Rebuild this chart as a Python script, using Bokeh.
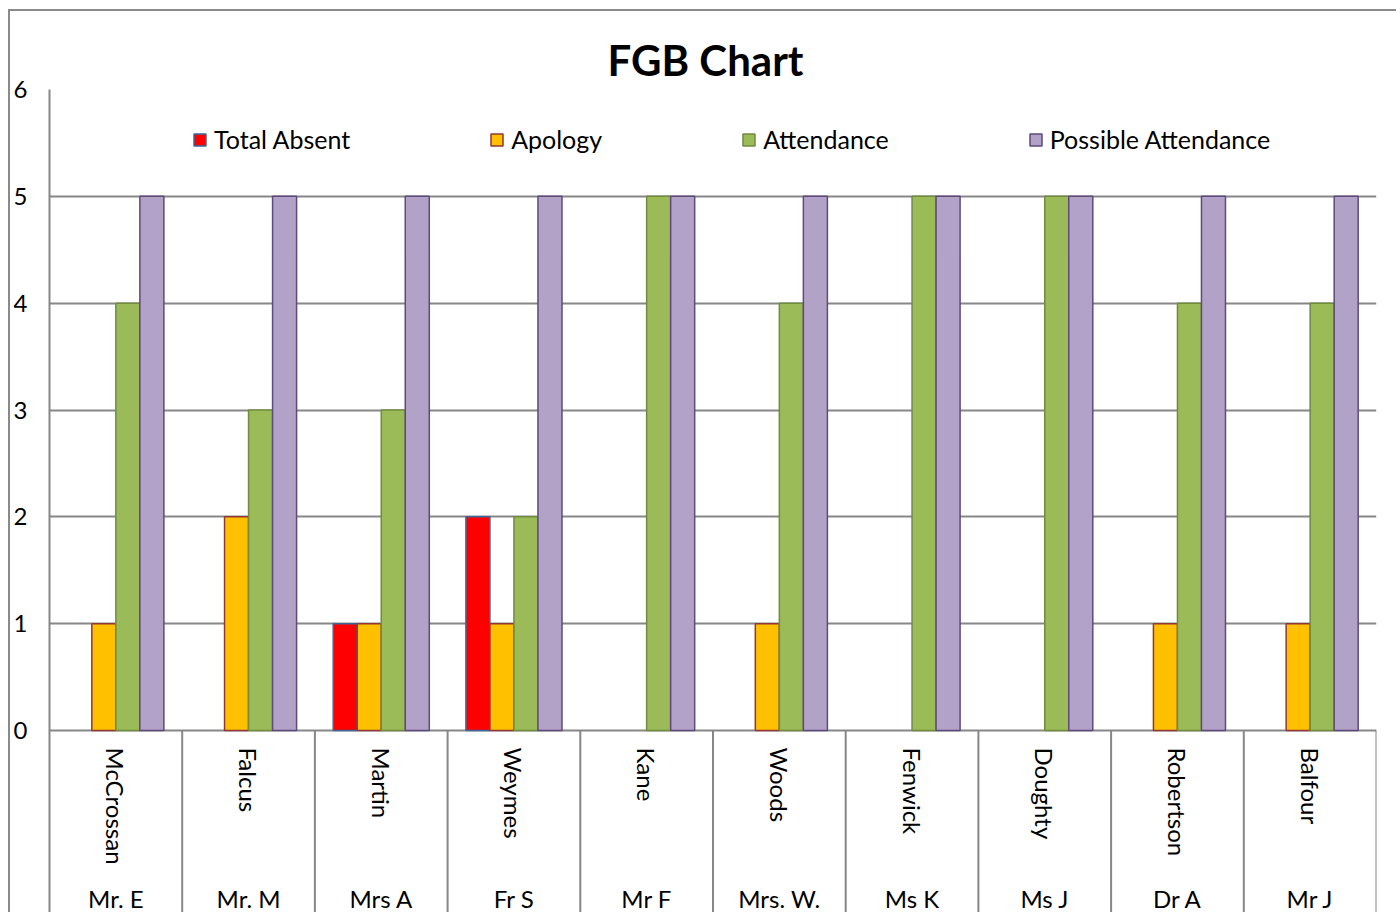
import math
from bokeh.plotting import figure
from bokeh.models import (FactorRange, Range1d, CategoricalAxis, FixedTicker,
                          ColumnDataSource, CDSView, BooleanFilter, Legend, LegendItem)
from bokeh.transform import dodge
from bokeh.embed import file_html
from bokeh.resources import INLINE

# ---- data ----
names = ["McCrossan", "Falcus", "Martin", "Weymes", "Kane", "Woods",
         "Fenwick", "Doughty", "Robertson", "Balfour"]
titles = ["Mr. E", "Mr. M", "Mrs A", "Fr S", "Mr F", "Mrs. W.",
          "Ms K", "Ms J", "Dr A", "Mr J"]
total_absent = [0, 0, 1, 2, 0, 0, 0, 0, 0, 0]
apology = [1, 2, 1, 1, 0, 1, 0, 0, 1, 1]
attendance = [4, 3, 3, 2, 5, 4, 5, 5, 4, 4]
possible_attendance = [5, 5, 5, 5, 5, 5, 5, 5, 5, 5]
y_ticks = [0, 1, 2, 3, 4, 5, 6]

series = [
    ("Total Absent", total_absent, "#FF0000", "#3D679A"),
    ("Apology", apology, "#FFC000", "#943634"),
    ("Attendance", attendance, "#9BBB59", "#718B3F"),
    ("Possible Attendance", possible_attendance, "#B3A2C7", "#5E4A7C"),
]

FONT = "Lato"
GRID = "#878787"

p = figure(width=1388, height=903,
           x_range=FactorRange(factors=names, range_padding=0),
           y_range=Range1d(-1.7223, 6),
           x_axis_location=None,
           output_backend="svg", toolbar_location=None,
           min_border_left=36, min_border_top=78, min_border_right=22, min_border_bottom=0)
p.extra_x_ranges = {"titles": FactorRange(factors=titles, range_padding=0)}
p.styles = {"margin-left": "8px", "margin-top": "9px",
            "border-left": "2px solid #8a8a8a", "border-top": "2px solid #8a8a8a"}
p.outline_line_color = None
p.background_fill_color = "white"
p.border_fill_color = "white"

# title
p.title.text = "FGB Chart"
p.title.text_font = FONT
p.title.text_font_size = "42px"
p.title.text_font_style = "bold"
p.title.align = "left"
p.title.offset = 558
p.title.text_color = "black"
p.title.standoff = 10

# y axis
yax = p.yaxis[0]
yax.ticker = FixedTicker(ticks=y_ticks)
yax.major_tick_line_color = None
yax.minor_tick_line_color = None
yax.axis_line_color = GRID
yax.axis_line_width = 2
yax.major_label_standoff = 16
yax.major_label_text_font = FONT
yax.major_label_text_font_size = "24px"
yax.major_label_text_color = "black"

p.ygrid.ticker = FixedTicker(ticks=y_ticks)
p.ygrid.grid_line_color = GRID
p.ygrid.grid_line_width = 2
p.xgrid.grid_line_color = None

# category axis (surnames) at y = 0
xax = CategoricalAxis(fixed_location=0)
xax.major_label_orientation = -math.pi / 2
xax.major_tick_line_color = None
xax.minor_tick_line_color = None
xax.axis_line_color = None
xax.major_label_standoff = 11
xax.major_label_text_font = FONT
xax.major_label_text_font_size = "24px"
xax.major_label_text_color = "black"
p.add_layout(xax, "below")

# second category row (titles)
xax2 = CategoricalAxis(fixed_location=-1.38, x_range_name="titles")
xax2.major_label_orientation = "horizontal"
xax2.major_tick_line_color = None
xax2.minor_tick_line_color = None
xax2.axis_line_color = None
xax2.major_label_standoff = 0
xax2.major_label_text_font = FONT
xax2.major_label_text_font_size = "24px"
xax2.major_label_text_color = "black"
p.add_layout(xax2, "below")

# category separators in label area
sep_src = ColumnDataSource(data=dict(names=names))
p.segment(x0=dodge("names", 0.5, range=p.x_range), y0=0,
          x1=dodge("names", 0.5, range=p.x_range), y1=-5,
          source=sep_src, line_color=GRID, line_width=2)

# bars
bw = 0.181
offsets = [-0.2715, -0.0905, 0.0905, 0.2715]
items = []
for (label, vals, fill, line), off in zip(series, offsets):
    src = ColumnDataSource(data=dict(names=names, v=vals))
    view = CDSView(filter=BooleanFilter([v > 0 for v in vals]))
    r = p.vbar(x=dodge("names", off, range=p.x_range), top="v", bottom=0, width=bw,
               source=src, view=view, fill_color=fill, line_color=line, line_width=1.5)
    items.append(LegendItem(label=label, renderers=[r]))

legend = Legend(items=items, orientation="horizontal", location=(143, 760))
legend.spacing = 139
legend.padding = 0
legend.margin = 0
legend.border_line_color = None
legend.background_fill_alpha = 0
legend.glyph_width = 15
legend.glyph_height = 15
legend.label_standoff = 7
legend.label_text_font = FONT
legend.label_text_font_size = "25px"
legend.label_text_color = "black"
p.add_layout(legend, "center")

open("out.html", "w").write(file_html(p, INLINE))
